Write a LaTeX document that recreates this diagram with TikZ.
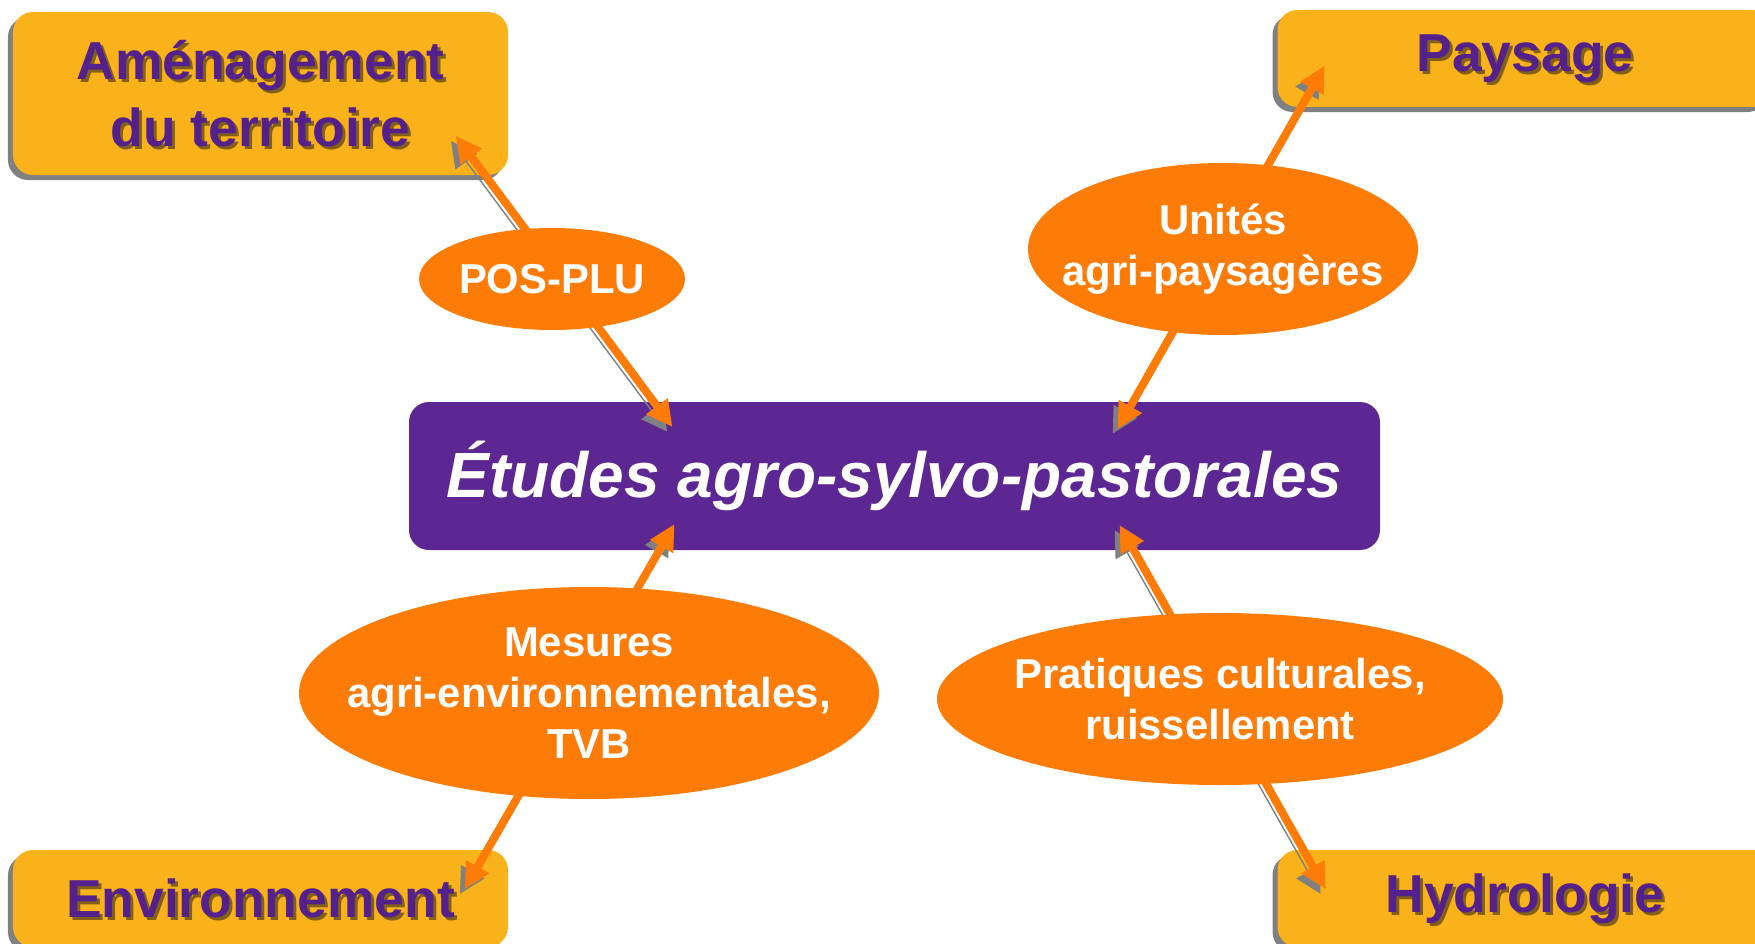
\documentclass[tikz,border=0pt]{standalone}
\usepackage{fontspec}
\setmainfont{Liberation Sans}
\usetikzlibrary{shapes.geometric,arrows.meta,calc,shadows}
\definecolor{gold}{RGB}{249,178,26}
\definecolor{plum}{RGB}{84,32,140}
\definecolor{etudesviolet}{RGB}{93,39,147}
\definecolor{orng}{RGB}{253,124,8}
\definecolor{txtshadow}{RGB}{130,96,24}
\definecolor{boxshadow}{RGB}{128,128,128}
\newcommand{\shadowed}[1]{\leavevmode\rlap{\hspace{0.03cm}\raisebox{-0.03cm}[0pt][0pt]{\color{txtshadow}#1}}#1}
\tikzset{
	theme/.style={fill=gold, rounded corners=0.2cm, minimum width=4.95cm, inner sep=0pt, align=center,
		text=plum, font=\bfseries\fontsize{15.2}{19}\selectfont,
		drop shadow={shadow xshift=-0.05cm, shadow yshift=-0.05cm, fill=boxshadow, opacity=1}},
	etudes/.style={fill=etudesviolet, rounded corners=0.2cm, minimum width=9.71cm, minimum height=1.48cm,
		inner sep=0pt, text=white, font=\bfseries\itshape\fontsize{18.2}{22}\selectfont},
	bubble/.style={ellipse, fill=orng, inner sep=-1cm, align=center, text=white,
		font=\bfseries\fontsize{11.9}{14.5}\selectfont},
	link/.style={draw=orng, line width=2.3pt, {Triangle[length=0.26cm,width=0.25cm]}-{Triangle[length=0.26cm,width=0.25cm]},
		preaction={draw=boxshadow, transform canvas={xshift=-0.05cm, yshift=-0.05cm}}},
}
\begin{document}
\begin{tikzpicture}
	\useasboundingbox (0,0) rectangle (17.55,9.43);
	\clip (0,0) rectangle (17.55,9.43);
	% domains
	\node[theme, minimum height=1.63cm] (amen) at (2.605,8.495) {\shadowed{Aménagement}\\\shadowed{du territoire}};
	\node[theme, minimum height=0.97cm] (pays) at (15.25,8.845) {\shadowed{Paysage}};
	\node[theme, minimum height=0.97cm] (envi) at (2.605,0.445) {\shadowed{Environnement}};
	\node[theme, minimum height=0.97cm] (hydr) at (15.25,0.445) {\shadowed{Hydrologie}};
	\node[etudes] (etu) at (8.945,4.67) {Études agro-sylvo-pastorales};
	% arrow ends
	\coordinate (amenTip) at ($(amen.south east)+(-0.53,0.40)$);
	\coordinate (paysTip) at ($(pays.south west)+(0.48,0.42)$);
	\coordinate (enviTip) at ($(envi.north east)+(-0.44,-0.40)$);
	\coordinate (hydrTip) at ($(hydr.north west)+(0.49,-0.40)$);
	\coordinate (etuNW) at ($(etu.center)+(-2.22,0.49)$);
	\coordinate (etuNE) at ($(etu.center)+(2.23,0.47)$);
	\coordinate (etuSW) at ($(etu.center)+(-2.20,-0.48)$);
	\coordinate (etuSE) at ($(etu.center)+(2.25,-0.49)$);
	\draw[link] (amenTip) -- (etuNW);
	\draw[link] (paysTip) -- (etuNE);
	\draw[link] (enviTip) -- (etuSW);
	\draw[link] (hydrTip) -- (etuSE);
	% tools
	\node[bubble, minimum width=2.66cm, minimum height=1.02cm] (pos) at (5.52,6.64) {POS-PLU};
	\node[bubble, minimum width=3.90cm, minimum height=1.72cm] (unit) at (12.23,6.94) {Unités\\agri-paysagères};
	\node[bubble, minimum width=5.80cm, minimum height=2.12cm] (mes) at (5.89,2.50) {Mesures\\agri-environnementales,\\TVB};
	\node[bubble, minimum width=5.66cm, minimum height=1.72cm] (prat) at (12.20,2.44) {Pratiques culturales,\\ruissellement};
\end{tikzpicture}
\end{document}
